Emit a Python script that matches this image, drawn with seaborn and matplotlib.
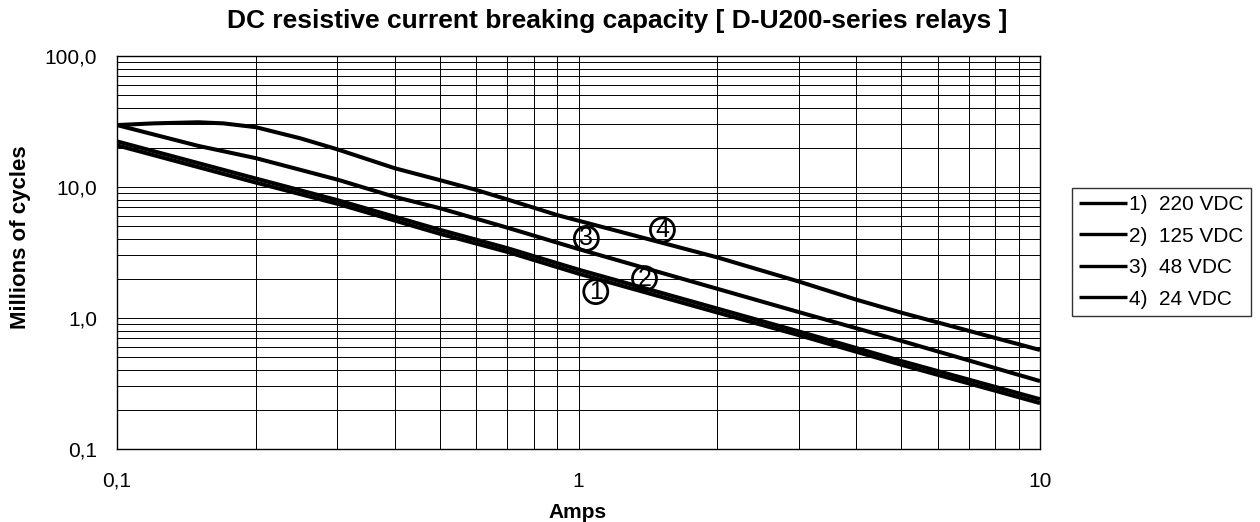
import matplotlib
matplotlib.use("Agg")
import matplotlib.pyplot as plt
import seaborn as sns
import pandas as pd
from matplotlib.ticker import LogLocator, NullFormatter

# ---------------- data ----------------
amps_12 = [0.1, 0.2, 0.3, 0.5, 0.7, 1.0, 2.0, 3.0, 5.0, 10.0]
cycles_220 = [20.8, 10.8, 7.45, 4.4, 3.2, 2.18, 1.1, 0.74, 0.44, 0.224]
cycles_125 = [22.3, 11.6, 7.95, 4.72, 3.42, 2.34, 1.18, 0.79, 0.47, 0.24]

amps_48 = [0.1, 0.15, 0.2, 0.25, 0.3, 0.4, 0.5, 0.7, 1.0, 2.0, 3.0, 5.0, 10.0]
cycles_48 = [29.7, 20.6, 16.6, 13.5, 11.4, 8.4, 6.9, 4.9, 3.36, 1.67, 1.11, 0.67, 0.33]

amps_24 = [0.1, 0.12, 0.15, 0.17, 0.2, 0.25, 0.3, 0.4, 0.5, 0.6, 0.7, 0.9, 1.0,
           2.0, 3.0, 4.0, 5.0, 10.0]
cycles_24 = [29.7, 30.6, 31.2, 30.6, 28.6, 23.5, 19.4, 13.9, 11.3, 9.5, 8.05, 6.1, 5.53,
             2.9, 1.9, 1.38, 1.1, 0.57]

series_labels = ["1)  220 VDC", "2)  125 VDC", "3)  48 VDC", "4)  24 VDC"]

x_ticks = [0.1, 1, 10]
x_tick_labels = ["0,1", "1", "10"]
y_ticks = [0.1, 1, 10, 100]
y_tick_labels = ["0,1", "1,0", "10,0", "100,0"]

marker_text = ["1", "2", "3", "4"]
marker_x = [1.09, 1.39, 1.04, 1.52]
marker_y = [1.59, 2.0, 4.05, 4.7]

title = "DC resistive current breaking capacity [ D-U200-series relays ]"
x_label = "Amps"
y_label = "Millions of cycles"

# ---------------- style ----------------
sns.set_theme(style="white")
plt.rcParams["font.family"] = ["Liberation Sans", "DejaVu Sans"]
plt.rcParams["text.color"] = "black"
plt.rcParams["axes.labelcolor"] = "black"
plt.rcParams["xtick.color"] = "black"
plt.rcParams["ytick.color"] = "black"

fig = plt.figure(figsize=(12.6, 5.22), dpi=100)
ax = fig.add_axes([117 / 1260, 1 - 449 / 522, (1040 - 117) / 1260, (449 - 56) / 522])

frames = [
    (amps_12, cycles_220, series_labels[0]),
    (amps_12, cycles_125, series_labels[1]),
    (amps_48, cycles_48, series_labels[2]),
    (amps_24, cycles_24, series_labels[3]),
]
for xs, ys, lab in frames:
    df = pd.DataFrame({"Amps": xs, "Cycles": ys})
    sns.lineplot(data=df, x="Amps", y="Cycles", ax=ax, color="black",
                 linewidth=2.9, label=lab, sort=False, estimator=None,
                 solid_capstyle="butt", zorder=3)

ax.set_xscale("log")
ax.set_yscale("log")
ax.set_xlim(0.1, 10)
ax.set_ylim(0.1, 100)

ax.set_xticks(x_ticks)
ax.set_xticklabels(x_tick_labels)
ax.set_yticks(y_ticks)
ax.set_yticklabels(y_tick_labels)
ax.xaxis.set_minor_locator(LogLocator(base=10, subs=range(2, 10)))
ax.yaxis.set_minor_locator(LogLocator(base=10, subs=range(2, 10)))
ax.xaxis.set_minor_formatter(NullFormatter())
ax.yaxis.set_minor_formatter(NullFormatter())

ax.grid(which="both", color="black", linewidth=0.7, zorder=1)
ax.set_axisbelow(True)
ax.tick_params(which="major", direction="out", length=5, width=1, color="black",
               labelsize=15, labelcolor="black")
ax.tick_params(axis="x", which="major", pad=11.5)
ax.tick_params(axis="y", which="major", pad=9.4)
ax.tick_params(which="minor", length=0)
for sp in ax.spines.values():
    sp.set_color("black")
    sp.set_linewidth(1.0)

ax.set_xlabel("")
ax.set_ylabel("")
fig.text(578 / 1260, 1 - 517.5 / 522, x_label, ha="center", va="baseline",
         fontsize=15, fontweight="bold")
fig.text(21 / 1260, 1 - 237 / 522, y_label, ha="center", va="center",
         rotation=90, fontsize=16, fontweight="bold")
fig.text(617 / 1260, 1 - 21 / 522, title, ha="center", va="center",
         fontsize=19, fontweight="bold")

for t, mx, my in zip(marker_text, marker_x, marker_y):
    ax.text(mx, my, t, ha="center", va="center", fontsize=18, zorder=5,
            bbox=dict(boxstyle="circle,pad=0.0", fc="none", ec="black", lw=2.0))

leg = ax.legend(loc="upper left", bbox_to_anchor=(1072 / 1260, 1 - 188 / 522),
                bbox_transform=fig.transFigure, fontsize=15, frameon=True,
                fancybox=False, shadow=False, handlelength=2.3, handletextpad=0.1,
                labelspacing=0.6, borderpad=0.35, borderaxespad=0)
leg.get_frame().set_edgecolor("black")
leg.get_frame().set_linewidth(1.0)
for line in leg.get_lines():
    line.set_linewidth(2.4)

fig.savefig("out.png", dpi=100)
